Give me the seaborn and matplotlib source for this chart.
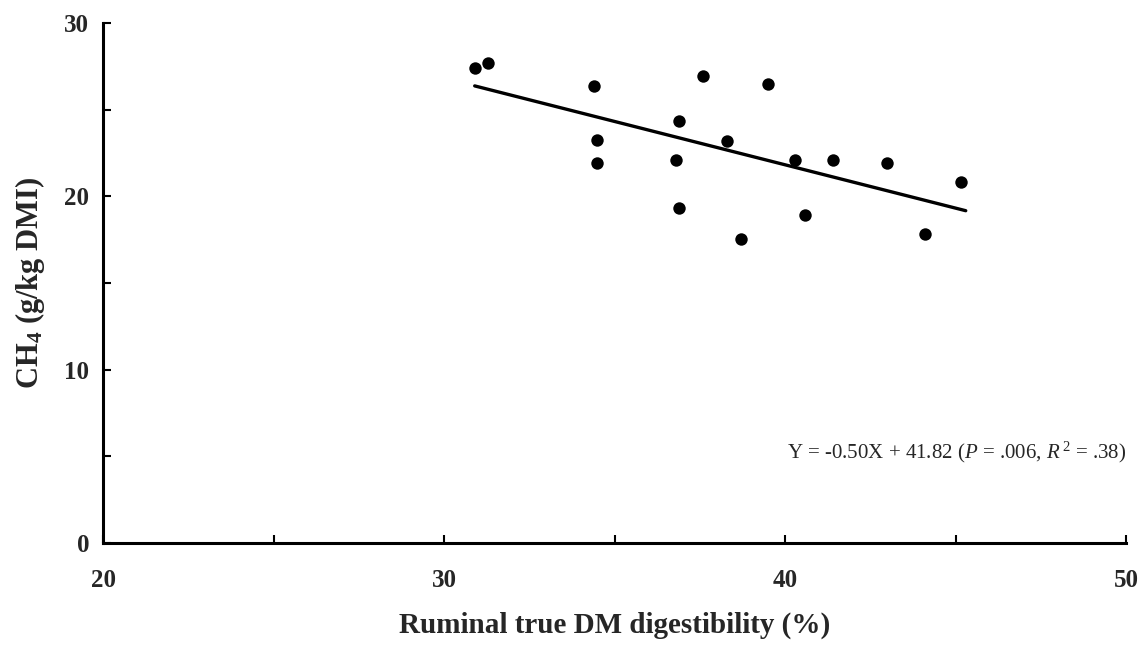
import matplotlib
matplotlib.use("Agg")
import matplotlib.pyplot as plt
import seaborn as sns
import pandas as pd
from matplotlib.ticker import MultipleLocator

# Data
digestibility = [30.9, 31.3, 34.4, 37.6, 36.9, 34.5, 34.5, 36.8, 36.9,
                 39.5, 38.3, 40.3, 41.4, 43.0, 45.15, 40.6, 38.7, 44.1]
ch4 = [27.4, 27.7, 26.35, 26.95, 24.35, 23.25, 21.95, 22.1, 19.35,
       26.5, 23.2, 22.1, 22.1, 21.95, 20.85, 18.95, 17.55, 17.8]
slope = -0.50
intercept = 41.82
line_x = [30.9, 45.3]
x_ticks = [20, 30, 40, 50]
y_ticks = [0, 10, 20, 30]
equation = r"Y = -0.50X + 41.82 ($\mathit{P}$ = .006, $\mathit{R}^{\,2}$ = .38)"

sns.set_style("ticks")
plt.rcParams['font.family'] = ['Liberation Serif', 'DejaVu Serif']
plt.rcParams['mathtext.fontset'] = 'custom'
plt.rcParams['mathtext.rm'] = 'Liberation Serif'
plt.rcParams['mathtext.it'] = 'Liberation Serif:italic'
plt.rcParams['mathtext.bf'] = 'Liberation Serif:bold'

df = pd.DataFrame({"x": digestibility, "y": ch4})
line_df = pd.DataFrame({"x": line_x, "y": [slope * v + intercept for v in line_x]})

fig = plt.figure(figsize=(11.47, 6.49), dpi=100)
ax = fig.add_axes([0.0898, 0.1633, 0.8919, 0.8013])

sns.lineplot(data=line_df, x="x", y="y", ax=ax, color="black", linewidth=2.4)
sns.scatterplot(data=df, x="x", y="y", ax=ax, color="black", s=80,
                edgecolor="black", linewidth=0, zorder=3)

ax.set_xlim(20, 50)
ax.set_ylim(0, 30)
ax.set_xticks(x_ticks)
ax.set_yticks(y_ticks)
ax.xaxis.set_minor_locator(MultipleLocator(5))
ax.yaxis.set_minor_locator(MultipleLocator(5))

for side in ["top", "right"]:
    ax.spines[side].set_visible(False)
for side in ["left", "bottom"]:
    ax.spines[side].set_linewidth(2.2)
    ax.spines[side].set_color("black")

ax.tick_params(axis="both", which="both", direction="in", length=6,
               width=1.5, color="black")
ax.tick_params(axis="x", which="major", pad=19, labelsize=18)
ax.tick_params(axis="y", which="major", pad=10, labelsize=18)
for lab in ax.get_xticklabels() + ax.get_yticklabels():
    lab.set_fontweight("bold")

ax.set_xlabel("Ruminal true DM digestibility (%)", fontsize=21,
              fontweight="bold", labelpad=14)
ax.set_ylabel(r"CH$_\mathbf{4}$ (g/kg DMI)", fontsize=22, fontweight="bold",
              labelpad=12)

ax.text(50, 5.2, equation, ha="right", va="center", fontsize=15)

fig.savefig("out.png", dpi=100, facecolor="white")
